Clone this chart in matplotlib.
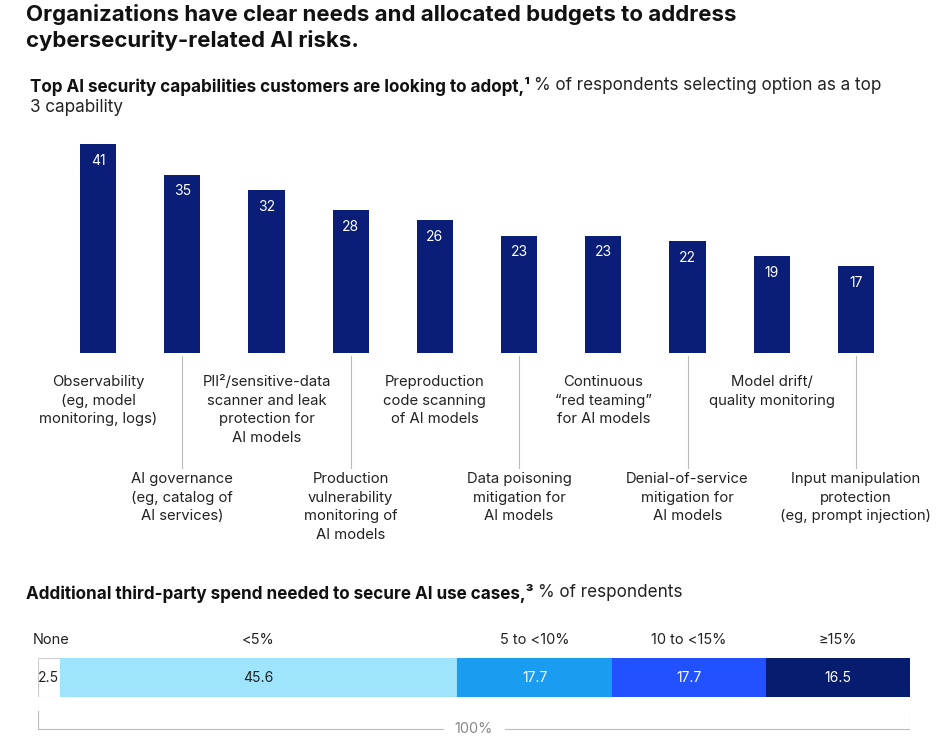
import matplotlib
matplotlib.use("Agg")
import matplotlib.pyplot as plt
from matplotlib import transforms

plt.rcParams['font.family'] = ['Inter', 'DejaVu Sans']

labels = ["Observability\n(eg, model\nmonitoring, logs)",
          "AI governance\n(eg, catalog of\nAI services)",
          "PII²/sensitive-data\nscanner and leak\nprotection for\nAI models",
          "Production\nvulnerability\nmonitoring of\nAI models",
          "Preproduction\ncode scanning\nof AI models",
          "Data poisoning\nmitigation for\nAI models",
          "Continuous\n“red teaming”\nfor AI models",
          "Denial-of-service\nmitigation for\nAI models",
          "Model drift/\nquality monitoring",
          "Input manipulation\nprotection\n(eg, prompt injection)"]
values = [41, 35, 32, 28, 26, 23, 23, 22, 19, 17]

spend_labels = ["None", "<5%", "5 to <10%", "10 to <15%", "≥15%"]
spend_values = [2.5, 45.6, 17.7, 17.7, 16.5]
spend_colors = ["#ffffff", "#9ee5fb", "#1a9cf0", "#2251ff", "#061c6e"]
spend_text = ["#222222", "#222222", "#ffffff", "#ffffff", "#ffffff"]

W, H = 952, 751
fig = plt.figure(figsize=(W / 100, H / 100), dpi=100)
NAVY = "#0a1e78"


def fy(y):
    return 1 - y / H


def bold_then_plain(x, y, bold, plain):
    t = fig.text(x / W, fy(y), bold, fontsize=12.3, fontweight="bold",
                 va="top", ha="left", color="#111111")
    fig.canvas.draw()
    ext = t.get_window_extent()
    fig.text((ext.x1 + 4) / W, fy(y), plain, fontsize=12.3, va="top",
             ha="left", color="#222222")


fig.text(26 / W, fy(4), "Organizations have clear needs and allocated budgets to address\ncybersecurity-related AI risks.",
         fontsize=16, fontweight="bold", va="top", ha="left", linespacing=1.3, color="#111111")
bold_then_plain(30, 77, "Top AI security capabilities customers are looking to adopt,¹",
                "% of respondents selecting option as a top")
fig.text(30 / W, fy(99), "3 capability", fontsize=12.3, va="top", ha="left", color="#222222")

# bar chart
ax = fig.add_axes([56 / W, fy(353), 842 / W, 213 / H])
ax.set_xlim(-0.5, len(values) - 0.5)
ax.set_ylim(0, 41 * 213 / 209)
xs = list(range(len(values)))
ax.bar(xs, values, width=0.43, color=NAVY)
for x, v in zip(xs, values):
    ax.annotate(str(v), (x, v), xytext=(0, -7), textcoords="offset points",
                ha="center", va="top", color="white", fontsize=10)
ax.axis("off")

tr = transforms.blended_transform_factory(ax.transData, fig.transFigure)
for i, lab in enumerate(labels):
    if i % 2 == 0:
        ax.text(i, fy(375), lab, transform=tr, ha="center", va="top",
                fontsize=10.7, linespacing=1.42, color="#222222")
    else:
        ax.plot([i, i], [fy(356), fy(468)], transform=tr, color="#bbbbbb",
                lw=0.8, clip_on=False)
        ax.text(i, fy(472), lab, transform=tr, ha="center", va="top",
                fontsize=10.7, linespacing=1.42, color="#222222")

bold_then_plain(26, 584, "Additional third-party spend needed to secure AI use cases,³",
                "% of respondents")

# stacked bar
ax2 = fig.add_axes([38 / W, fy(697), 872 / W, 39 / H])
ax2.set_xlim(0, 100)
ax2.set_ylim(0, 1)
ax2.axis("off")
left = 0
for i, (lab, v) in enumerate(zip(spend_labels, spend_values)):
    ax2.barh(0.5, v, left=left, height=1, color=spend_colors[i],
             edgecolor="#cccccc" if i == 0 else spend_colors[i], lw=0.8)
    c = left + v / 2
    ax2.text(c, 0.5, f"{v}", ha="center", va="center", fontsize=10, color=spend_text[i])
    ax2.text(c if i > 0 else -0.6, 1.45, lab, ha="center" if i > 0 else "left",
             va="center", fontsize=10.5, color="#222222")
    left += v

# 100% bracket
ax3 = fig.add_axes([38 / W, fy(740), 872 / W, 32 / H])
ax3.set_xlim(0, 100)
ax3.set_ylim(0, 1)
ax3.axis("off")
ax3.plot([0, 0, 46.5], [0.9, 0.34, 0.34], color="#bbbbbb", lw=0.8)
ax3.plot([53.5, 100, 100], [0.34, 0.34, 0.9], color="#bbbbbb", lw=0.8)
ax3.text(50, 0.34, "100%", ha="center", va="center", fontsize=10.5, color="#888888")

fig.savefig("out.png", dpi=100, facecolor="white")
